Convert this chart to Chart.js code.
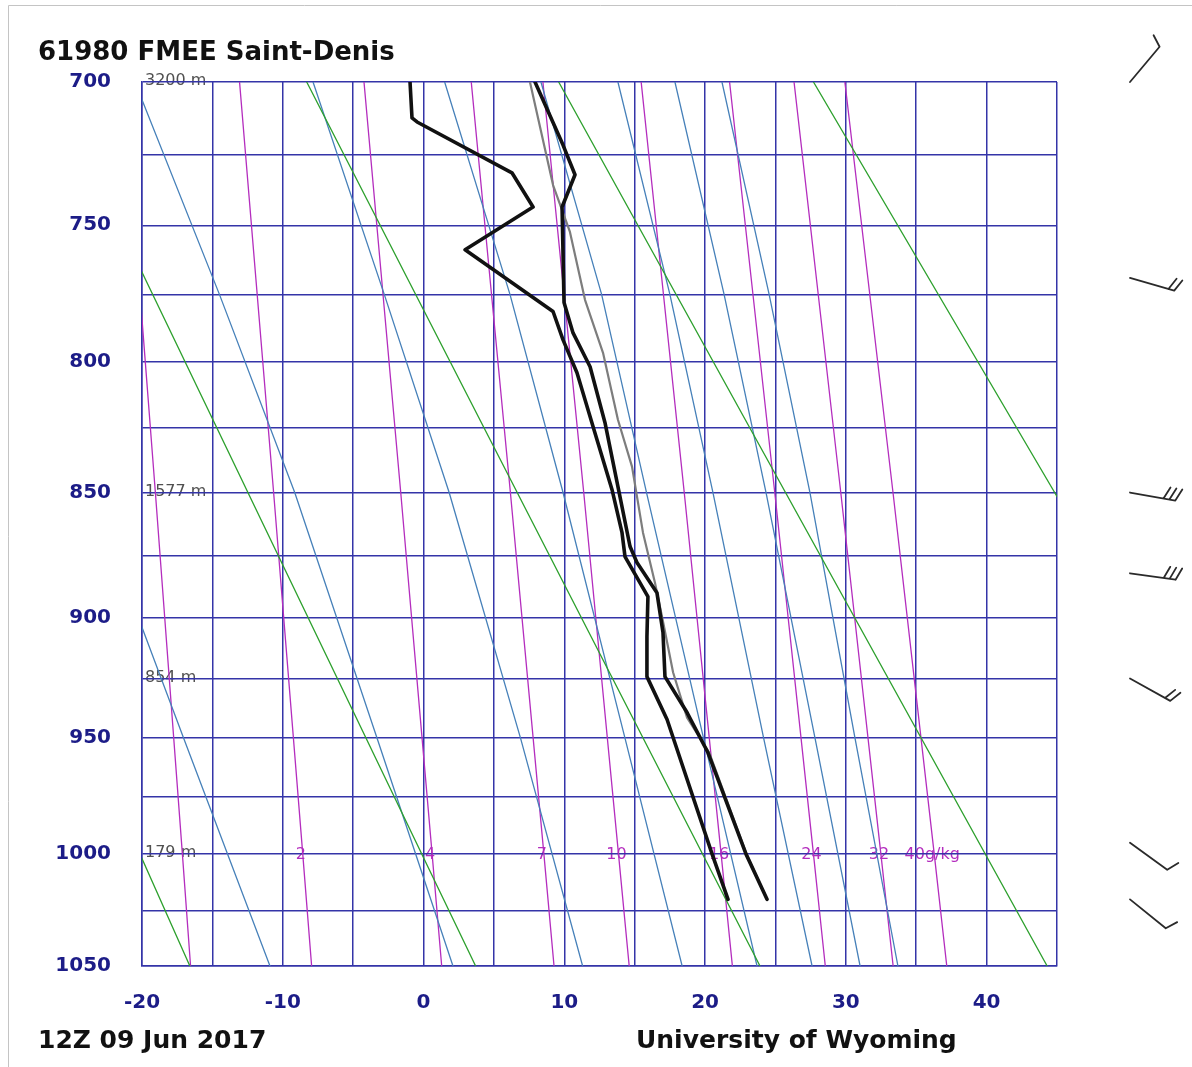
<!DOCTYPE html>
<html><head><meta charset="utf-8">
<script src="https://cdn.jsdelivr.net/npm/chart.js@4.4.0/dist/chart.umd.min.js"></script>
<style>html,body{margin:0;padding:0;background:#fff;overflow:hidden}canvas{display:block}</style>
</head><body>
<canvas id="c" width="1192" height="1067"></canvas>
<script>
// ---------- sounding (pressure hPa, temperature degC) ----------
const tempP   = [700, 721.7, 732.1, 743.5, 778, 789.2, 801.8, 823.0, 847.7, 871.3, 877.7, 889.8, 906.0, 924.2, 939.2, 956.2, 1000, 1020];
const tempT   = [7.92, 9.91, 10.76, 9.84, 9.98, 10.62, 11.83, 12.89, 13.81, 14.67, 15.16, 16.58, 17.01, 17.15, 18.72, 20.21, 22.91, 24.40];
const dewP    = [700, 712.3, 713.7, 731.4, 743.5, 758.8, 781.3, 791.8, 804.1, 824.5, 848.9, 865.8, 875.3, 891.4, 907.7, 924.2, 942.1, 1000, 1020];
const dewT    = [-0.96, -0.82, -0.46, 6.28, 7.78, 2.95, 9.20, 9.91, 10.90, 12.04, 13.39, 14.10, 14.31, 15.94, 15.87, 15.87, 17.30, 20.50, 21.63];
const parcelP = [700, 735.7, 752.4, 777.0, 796.6, 821.9, 839.9, 865.8, 885.8, 899.5, 922.5, 941.3, 956.2, 1000, 1020];
const parcelT = [7.56, 9.20, 10.40, 11.47, 12.75, 13.81, 14.81, 15.59, 16.44, 16.94, 17.73, 18.72, 20.30, 22.95, 24.40];

// ---------- winds ----------
const windP   = [700, 769, 850, 882, 925, 995, 1020];
const windDir = [40, 106, 100, 98, 119, 126, 129];
const windSpd = [10, 20, 30, 30, 20, 10, 10];

// ---------- background lines ----------
const dryLevels = [700, 1050];
const dryT700   = [-44.6, -26.5, -8.3, 9.6, 27.7];
const dryT1050  = [-16.6, 3.7, 23.9, 44.3, 64.6];

const moistLevels = [700, 775, 850, 950, 1050];
const moistT700   = [-37.2, -20.5, -7.85, 1.5, 8.34, 13.81, 17.86, 21.20];
const moistT775   = [-30.2, -14.5, -2.79, 6.14, 12.65, 17.50, 21.35, 24.55];
const moistT850   = [-23.6, -9.15, 1.82, 9.91, 15.84, 20.56, 24.33, 27.45];
const moistT950   = [-17.04, -3.3, 6.89, 14.31, 19.89, 24.16, 27.81, 30.65];
const moistT1050  = [-10.91, 2.09, 11.30, 18.37, 23.69, 27.60, 31.01, 33.70];

const mixLevels = [700, 850, 1000, 1050];
const mixRatios = [1, 2, 4, 7, 10, 16, 24, 32, 40];
const mixT700   = [-21.3, -13.07, -4.23, 3.39, 8.48, 15.46, 21.74, 26.32, 29.93];
const mixT850   = [-19.05, -10.65, -1.62, 6.17, 11.38, 18.52, 24.95, 29.64, 33.35];
const mixT1000  = [-17.13, -8.58, 0.61, 8.55, 13.85, 21.14, 27.70, 32.49, 36.28];
const mixT1050  = [-16.55, -7.95, 1.29, 9.27, 14.61, 21.94, 28.54, 33.36, 37.17];
const mixLabels = ['', '2', '4', '7', '10', '16', '24', '32', '40g/kg'];

// ---------- labels ----------
const heightP      = [700, 850, 925, 1000];
const heightLabels = ['3200 m', '1577 m', '854 m', '179 m'];
const titleText  = '61980 FMEE Saint-Denis';
const dateText   = '12Z 09 Jun 2017';
const sourceText = 'University of Wyoming';

// ---------- Stuve pressure scale (linear in p^kappa) ----------
const KAPPA = 0.286;
class StuveScale extends Chart.LinearScale {
  configure() {
    super.configure();
    this._kMin = Math.pow(this.min, KAPPA);
    this._kMax = Math.pow(this.max, KAPPA);
  }
  getPixelForValue(value) {
    if (value === null || value === undefined || isNaN(value)) return NaN;
    const d = (Math.pow(value, KAPPA) - this._kMin) / (this._kMax - this._kMin);
    return this.getPixelForDecimal(d);
  }
  getValueForPixel(pixel) {
    const d = this.getDecimalForPixel(pixel);
    return Math.pow(this._kMin + d * (this._kMax - this._kMin), 1 / KAPPA);
  }
}
StuveScale.id = 'stuve';
StuveScale.defaults = {};
Chart.register(StuveScale);

const GRID = 'rgb(52,52,168)';
const NAVY = 'rgb(28,28,135)';
const GREEN = 'rgb(45,160,45)';
const MOIST = 'rgb(70,128,185)';
const PURPLE = 'rgb(180,45,190)';

function pts(ts, ps) { return ts.map((t, i) => ({ x: t, y: ps[i] })); }

const datasets = [];
datasets.push({ data: pts(tempT, tempP), borderColor: '#111', borderWidth: 3.6, order: 0 });
datasets.push({ data: pts(dewT, dewP), borderColor: '#111', borderWidth: 3.6, order: 0 });
datasets.push({ data: pts(parcelT, parcelP), borderColor: 'rgb(125,125,125)', borderWidth: 2.2, order: 1 });
mixRatios.forEach((w, i) => {
  datasets.push({ data: pts([mixT700[i], mixT850[i], mixT1000[i], mixT1050[i]], mixLevels), borderColor: PURPLE, borderWidth: 1.3, order: 4 });
});
moistT700.forEach((t, i) => {
  datasets.push({ data: pts([moistT700[i], moistT775[i], moistT850[i], moistT950[i], moistT1050[i]], moistLevels), borderColor: MOIST, borderWidth: 1.3, order: 3 });
});
dryT700.forEach((t, i) => {
  datasets.push({ data: pts([dryT700[i], dryT1050[i]], dryLevels), borderColor: GREEN, borderWidth: 1.3, order: 2 });
});
datasets.forEach(d => {
  d.showLine = true; d.pointRadius = 0; d.clip = 0; d.fill = false;
  d.borderJoinStyle = 'round'; d.borderCapStyle = 'round'; d.tension = 0;
});

const backPlugin = {
  id: 'back',
  beforeDraw(chart) {
    const ctx = chart.ctx, xs = chart.scales.x, ys = chart.scales.y;
    ctx.save();
    ctx.fillStyle = '#fff';
    ctx.fillRect(0, 0, chart.width, chart.height);
    ctx.strokeStyle = '#c4c4c4'; ctx.lineWidth = 1;
    ctx.beginPath(); ctx.moveTo(8.5, 1067); ctx.lineTo(8.5, 5.5); ctx.lineTo(1192, 5.5); ctx.stroke();
    ctx.font = '16px "DejaVu Sans"'; ctx.fillStyle = '#505050';
    ctx.textAlign = 'left'; ctx.textBaseline = 'middle';
    heightP.forEach((p, i) => ctx.fillText(heightLabels[i], xs.left + 3, ys.getPixelForValue(p) - 1));
    ctx.fillStyle = PURPLE; ctx.textAlign = 'center';
    mixLabels.forEach((lab, i) => { if (lab) ctx.fillText(lab, xs.getPixelForValue(mixT1000[i]) - 2, ys.getPixelForValue(1000) + 1); });
    ctx.restore();
  },
  afterDraw(chart) {
    const ctx = chart.ctx, ys = chart.scales.y;
    ctx.save();
    ctx.fillStyle = '#111'; ctx.textAlign = 'left'; ctx.textBaseline = 'alphabetic';
    ctx.font = 'bold 26px "DejaVu Sans"';
    ctx.fillText(titleText, 38, 60);
    ctx.font = 'bold 25px "DejaVu Sans"';
    ctx.fillText(dateText, 38, 1048);
    ctx.fillText(sourceText, 636, 1048);
    // wind barbs
    ctx.strokeStyle = '#2a2a2a'; ctx.lineWidth = 1.8; ctx.lineCap = 'round';
    const x0 = 1130, L = 46;
    windP.forEach((p, i) => {
      const y0 = ys.getPixelForValue(p);
      const a = windDir[i] * Math.PI / 180;
      const ux = Math.sin(a), uy = -Math.cos(a);
      const px = uy, py = -ux;
      ctx.beginPath();
      ctx.moveTo(x0, y0); ctx.lineTo(x0 + ux * L, y0 + uy * L);
      let s = windSpd[i], pos = L;
      while (s >= 10) {
        const bx = x0 + ux * pos, by = y0 + uy * pos;
        ctx.moveTo(bx, by); ctx.lineTo(bx + px * 12 + ux * 5, by + py * 12 + uy * 5);
        pos -= 6; s -= 10;
      }
      if (s >= 5) {
        const bx = x0 + ux * pos, by = y0 + uy * pos;
        ctx.moveTo(bx, by); ctx.lineTo(bx + px * 6 + ux * 2.5, by + py * 6 + uy * 2.5);
      }
      ctx.stroke();
    });
    ctx.restore();
  }
};

const tickFont = { family: 'DejaVu Sans', weight: 'bold', size: 20 };

new Chart(document.getElementById('c'), {
  type: 'scatter',
  data: { datasets },
  options: {
    responsive: false, animation: false, events: [],
    layout: { padding: { left: 0, right: 135, top: 82, bottom: 41 } },
    plugins: { legend: { display: false }, tooltip: { enabled: false }, title: { display: false } },
    scales: {
      x: {
        type: 'linear', min: -20, max: 45,
        ticks: { stepSize: 5, autoSkip: false, maxRotation: 0, minRotation: 0, padding: 25, font: tickFont, color: NAVY,
          callback: v => (v % 10 === 0 ? String(v) : '') },
        grid: { color: GRID, lineWidth: 1.5, drawTicks: false },
        border: { color: GRID, width: 1.5 },
        afterFit: s => { s.height = 60; }
      },
      y: {
        type: 'stuve', reverse: true, min: 700, max: 1050,
        ticks: { stepSize: 25, autoSkip: false, padding: 31, font: tickFont, color: NAVY,
          callback: v => (v % 50 === 0 ? String(v) : '') },
        grid: { color: GRID, lineWidth: 1.5, drawTicks: false },
        border: { color: GRID, width: 1.5 },
        afterFit: s => { s.width = 142; }
      }
    }
  },
  plugins: [backPlugin]
});
</script>
</body></html>
